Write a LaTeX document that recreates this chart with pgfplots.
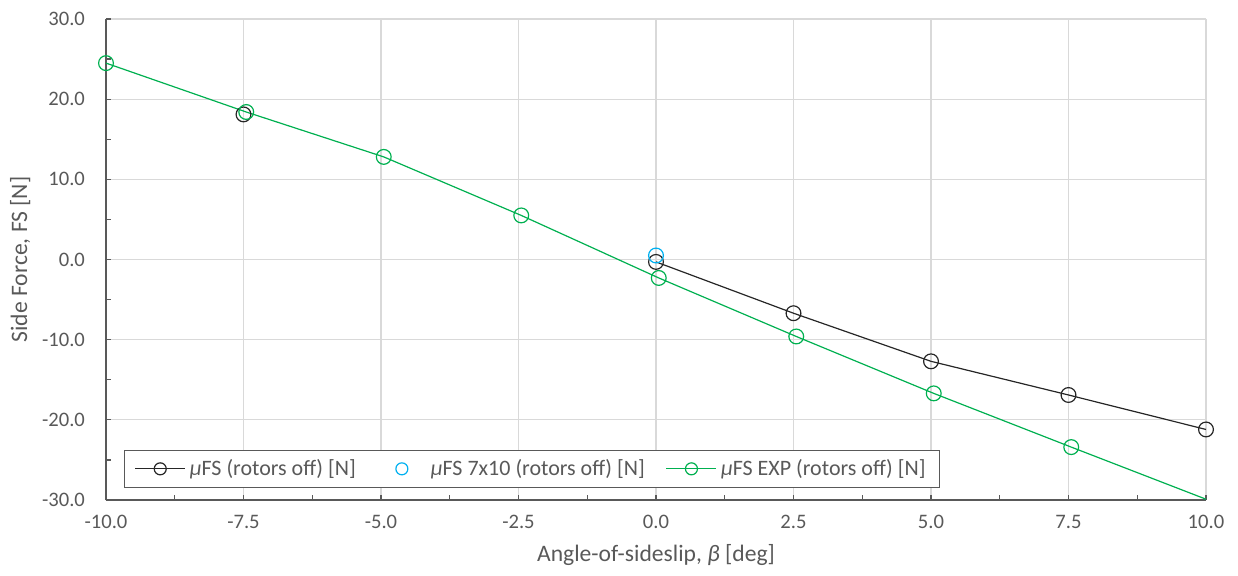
\documentclass[border=0pt]{standalone}
\usepackage{fontspec}
\setmainfont{Carlito}
\usepackage{pgfplots}
\pgfplotsset{compat=1.18}
\definecolor{txt}{HTML}{595959}
\definecolor{gridc}{HTML}{D9D9D9}
\definecolor{exgreen}{HTML}{00B050}
\definecolor{exblue}{HTML}{00B0F0}
\definecolor{dark}{HTML}{262626}
\begin{document}
\begin{tikzpicture}
\useasboundingbox (-53pt,-37.5pt) rectangle (566pt,250pt);
\begin{axis}[
  at={(0,0)}, anchor=south west,
  scale only axis, width=550pt, height=240.5pt,
  xmin=-10, xmax=10, ymin=-30, ymax=30,
  xtick={-10,-7.5,...,10}, ytick={-30,-20,...,30},
  minor x tick num=1, minor y tick num=1,
  axis x line*=bottom, axis y line*=left,
  axis line style={-, color=txt, line width=0.8pt},
  tick align=inside, major tick length=2.5pt, minor tick length=2.5pt,
  tick style={color=txt, line width=0.6pt},
  grid=major, major grid style={gridc, line width=0.6pt},
  unbounded coords=jump,
  /pgf/number format/assume math mode=true,
  /pgf/number format/fixed, /pgf/number format/fixed zerofill,
  /pgf/number format/precision=1,
  ticklabel style={font=\fontsize{10.3}{12}\selectfont, color=txt},
  xticklabel style={yshift=-4pt},
  yticklabel style={xshift=-7pt},
  xlabel={Angle-of-sideslip, \textit{β} [deg]},
  ylabel={Side Force, FS [N]},
  label style={font=\fontsize{11.8}{14}\selectfont, color=txt},
  xlabel style={yshift=-1pt},
  ylabel style={yshift=-1pt},
  clip=false,
  legend columns=3,
  legend style={at={(0.0164,0.025)}, anchor=south west, draw=txt, line width=0.6pt,
    font=\fontsize{11}{13}\selectfont, text=txt, inner xsep=5pt, inner ysep=2.5pt,
    /tikz/every even column/.append style={column sep=8.5pt}},
  legend cell align=left,
  every axis plot/.append style={line width=0.6pt},
]
\addplot[dark, mark=o, mark size=3.7pt, mark options={fill=white, solid},
  legend image code/.code={\draw[mark size=3pt] (0pt,0pt) -- (25pt,0pt) plot coordinates {(12.5pt,0pt)};}] coordinates {
  (-7.5,18.1) (-5,nan) (-2.5,nan) (0,-0.3) (2.5,-6.7) (5,-12.7) (7.5,-16.9) (10,-21.2)};
\addlegendentry{\textit{μ}FS (rotors off) [N]}
\addplot[only marks, exblue, mark=o, mark size=3.7pt, mark options={fill=white},
  legend image code/.code={\path[draw=none] (0pt,0pt) -- (25pt,0pt); \draw[mark size=3pt] plot coordinates {(12.5pt,0pt)};}] coordinates {
  (0,0.5)};
\addlegendentry{\textit{μ}FS 7x10 (rotors off) [N]}
\addplot[exgreen, forget plot] coordinates {(7.55,-23.4) (10,-29.9)};
\addplot[exgreen, mark=o, mark size=3.7pt, mark options={fill=white, solid},
  legend image code/.code={\draw[mark size=3pt] (0pt,0pt) -- (25pt,0pt) plot coordinates {(12.5pt,0pt)};}] coordinates {
  (-10,24.5) (-7.45,18.4) (-4.95,12.8) (-2.45,5.5) (0.05,-2.3) (2.55,-9.6) (5.05,-16.7) (7.55,-23.4)};
\addlegendentry{\textit{μ}FS EXP (rotors off) [N]}
\end{axis}
\end{tikzpicture}
\end{document}
